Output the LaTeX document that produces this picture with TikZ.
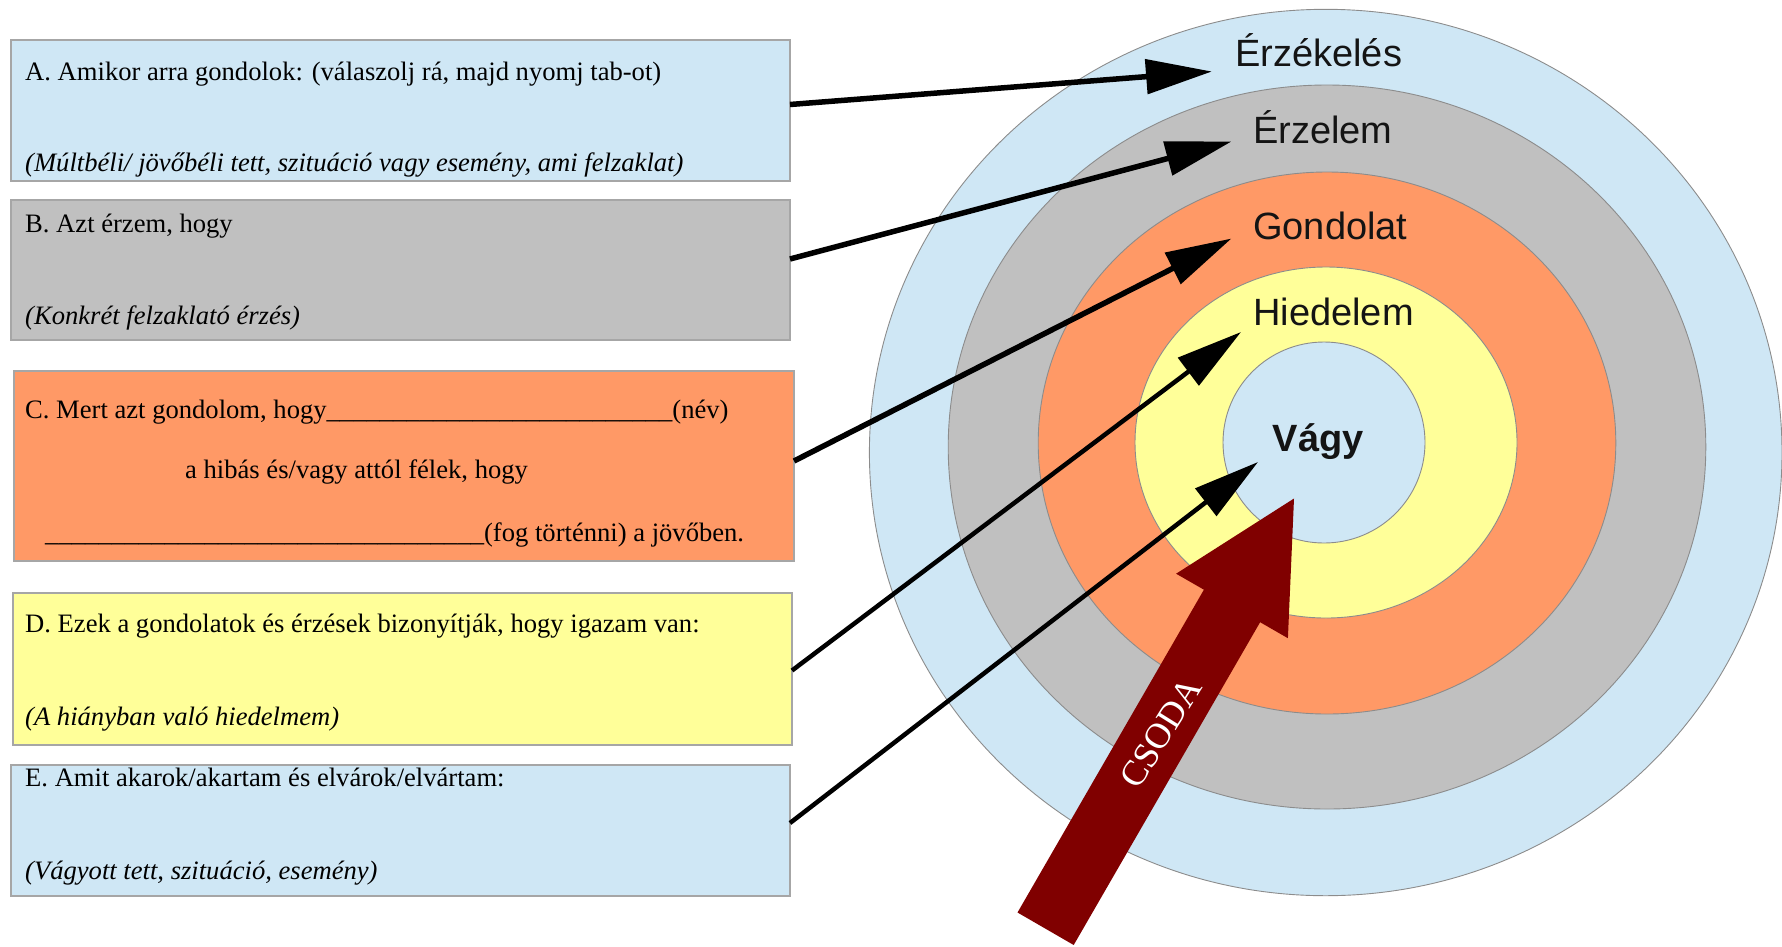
\documentclass[tikz,border=0pt]{standalone}
\usepackage{fontspec}
\setmainfont{Liberation Serif}
\newfontfamily\lblfont{Liberation Sans}
\usetikzlibrary{arrows.meta,shapes.geometric}
\definecolor{lblue}{HTML}{CFE7F5}
\definecolor{lgrey}{HTML}{C0C0C0}
\definecolor{lorange}{HTML}{FF9966}
\definecolor{lyellow}{HTML}{FFFF99}
\definecolor{dred}{HTML}{800000}
\definecolor{edgegrey}{HTML}{8C8C8C}
\definecolor{boxedge}{HTML}{A6A6A6}
\definecolor{lblcol}{HTML}{141414}
\begin{document}
\begin{tikzpicture}[x=1pt,y=-1pt,
  boxnode/.style={draw=boxedge,line width=1.2pt,anchor=north west,inner sep=0pt,outer sep=0pt},
  txt/.style={anchor=base west,inner sep=0pt,font=\fontsize{26.6}{30}\selectfont},
  itxt/.style={txt,font=\fontsize{26.6}{30}\selectfont\itshape},
  ell/.style={ellipse,draw=edgegrey,line width=0.9pt,inner sep=0pt,outer sep=0pt},
  lbl/.style={anchor=base west,inner sep=0pt,text=lblcol,font=\lblfont\fontsize{38}{40}\selectfont},
  conn/.style={line width=5.5pt,-{Triangle[length=66pt,width=34pt]}},
  connthin/.style={line width=4.5pt,-{Triangle[length=66pt,width=34pt]}}]
\useasboundingbox (0,0) rectangle (1782,946);

% target rings
\node[ell,fill=lblue,minimum width=912.6pt,minimum height=886.4pt] (e1) at (1325.7,452.5) {};
\node[ell,fill=lgrey,minimum width=757.6pt,minimum height=724pt] (e2) at (1327,447) {};
\node[ell,fill=lorange,minimum width=577.6pt,minimum height=542pt] (e3) at (1327,443) {};
\node[ell,fill=lyellow,minimum width=382pt,minimum height=351pt] (e4) at (1326,442.5) {};
\node[ell,fill=lblue,minimum width=202pt,minimum height=201pt] (e5) at (1324,442.5) {};

\node[lbl] (l1) at (1235,66.7) {Érzékelés};
\node[lbl] (l2) at (1253,143) {Érzelem};
\node[lbl] (l3) at (1253,239) {Gondolat};
\node[lbl] (l4) at (1253,325.5) {Hiedelem};
\node[lbl,font=\lblfont\bfseries\fontsize{38}{40}\selectfont] (l5) at (1272.7,451.7) {Vágy};

% boxes
\node[boxnode,fill=lblue,minimum width=779pt,minimum height=141pt] (boxA) at (11,40) {};
\node[boxnode,fill=lgrey,minimum width=779pt,minimum height=140pt] (boxB) at (11,200) {};
\node[boxnode,fill=lorange,minimum width=780pt,minimum height=190pt] (boxC) at (14,371) {};
\node[boxnode,fill=lyellow,minimum width=779pt,minimum height=152pt] (boxD) at (13,593) {};
\node[boxnode,fill=lblue,minimum width=779pt,minimum height=131pt] (boxE) at (11,765) {};

\node[txt] (a1) at (25,80) {A. Amikor arra gondolok: (válaszolj rá, majd nyomj tab-ot)};
\node[itxt] (a2) at (25,171) {(Múltbéli/ jövőbéli tett, szituáció vagy esemény, ami felzaklat)};
\node[txt] (b1) at (25,232) {B. Azt érzem, hogy};
\node[itxt] (b2) at (25,324) {(Konkrét felzaklató érzés)};
\node[txt] (c1) at (25,418) {C. Mert azt gondolom, hogy\_\_\_\_\_\_\_\_\_\_\_\_\_\_\_\_\_\_\_\_\_\_\_\_\_\_(név)};
\node[txt] (c2) at (185,478) {a hibás és/vagy attól félek, hogy};
\node[txt] (c3) at (45,541) {\_\_\_\_\_\_\_\_\_\_\_\_\_\_\_\_\_\_\_\_\_\_\_\_\_\_\_\_\_\_\_\_\_(fog történni) a jövőben.};
\node[txt] (d1) at (25,632) {D. Ezek a gondolatok és érzések bizonyítják, hogy igazam van:};
\node[itxt] (d2) at (25,725) {(A hiányban való hiedelmem)};
\node[txt] (x1) at (25,786) {E. Amit akarok/akartam és elvárok/elvártam:};
\node[itxt] (x2) at (25,879) {(Vágyott tett, szituáció, esemény)};

% arrow targets
\coordinate (tA) at (1212,71.5);
\coordinate (tB) at (1231.5,141.5);
\coordinate (tC) at (1231.5,238.5);
\coordinate (tD) at (1241,332);
\coordinate (tE) at (1258,462);

\draw[conn] ([yshift=6pt]boxA.east) -- (tA);
\draw[conn] ([yshift=11pt]boxB.east) -- (tB);
\draw[conn] ([yshift=5pt]boxC.east) -- (tC);
\draw[connthin] ([yshift=-1.5pt]boxD.east) -- (tD);
\draw[connthin] ([yshift=7.5pt]boxE.east) -- (tE);

% CSODA block arrow
\coordinate (BL) at (1017.5,912.5);
\coordinate (SL) at (1203.9,589.7);
\coordinate (LB) at (1176.1,573.7);
\coordinate (T) at (1294,498.5);
\coordinate (RB) at (1287.9,638.2);
\coordinate (SR) at (1260.1,622.2);
\coordinate (BR) at (1073.7,945);
\fill[dred] (BL) -- (SL) -- (LB) -- (T) -- (RB) -- (SR) -- (BR) -- cycle;
\node[inner sep=0pt,text=white,font=\fontsize{36}{40}\selectfont,rotate=58] (csoda) at (1161,733) {CSODA};
\end{tikzpicture}
\end{document}
